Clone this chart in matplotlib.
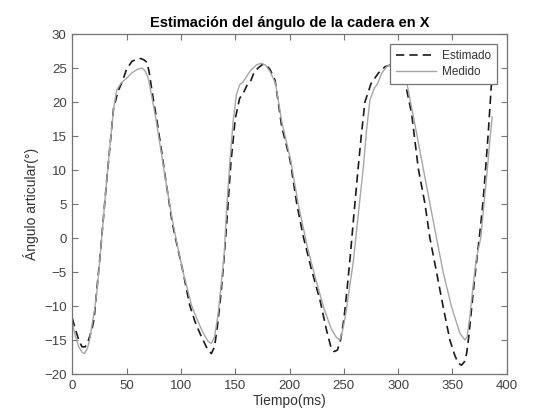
import matplotlib
matplotlib.use("Agg")
import matplotlib.pyplot as plt

# Estimado (dashed)
t_est = [0, 3, 6, 9, 12, 15, 18, 20, 23, 26, 29, 32, 35, 38, 42, 46, 50, 55, 60, 63,
         66, 69, 71, 74, 78, 82, 87, 92, 95, 102, 108, 113, 118, 124, 128, 131, 134, 137,
         140, 143, 146, 150, 154, 158, 161, 164, 167, 171, 175, 178, 182, 186.7, 192.8,
         200.5, 206.6, 212.7, 220, 228, 234, 238, 241, 244, 247, 250, 253, 256, 259, 263,
         266, 269.4, 275, 282, 288, 294, 300, 306, 312.4, 318.5, 324.6, 329.2, 335.3,
         341.4, 347.6, 352, 355.2, 358.3, 361, 363, 365, 367.5, 370, 372.5, 375, 378,
         380.4, 382.9, 386]
y_est = [-11.8, -13.5, -15, -16, -16, -15, -13.5, -12, -7, -2, 3.5, 9, 14, 19, 21.5, 23,
         24.8, 26, 26.3, 26.4, 26.2, 25.8, 24.2, 21, 17.2, 13, 7.5, 2.3, 0, -5, -9.8, -12.3,
         -14.2, -16.2, -17, -16, -12.5, -8, -2.5, 4, 11, 17.5, 20.5, 21.5, 22.5, 23, 24.2,
         25, 25.5, 25.5, 24.8, 23.2, 16.4, 11.5, 5.1, 0.2, -4.5, -9.1, -13.5, -16, -16.7,
         -16.5, -15, -12, -7.5, -2.5, 3, 10, 15, 20, 22.7, 24.3, 25.2, 25.5, 25, 23.2, 18.3,
         10.25, 5.1, 0, -5, -10.1, -15, -17.2, -18.4, -18.7, -18.2, -17, -14.5, -10.5,
         -6.5, -3, 0.5, 5.1, 10, 15.4, 23]

# Medido (solid)
t_med = [0, 3, 6, 9, 11.3, 14, 16, 18, 20.5, 23, 26, 29, 32, 35, 38, 41, 45, 50, 55, 60,
         64, 67, 70, 73, 77, 82, 87, 92, 96, 102, 110, 115, 120, 125, 128, 131, 134, 137,
         140, 142, 145, 148, 151, 154, 157.5, 160.6, 165, 170, 174.4, 178, 182, 187, 193,
         201, 208, 216.4, 224, 232, 238, 243, 246.4, 249, 252, 255, 258.7, 263, 268, 271,
         274, 278, 281, 285, 290, 295, 300, 304, 307.5, 312, 317, 323, 329.2, 335.3, 341.4,
         349.1, 356.8, 361.4, 363.5, 366, 369, 372, 376, 379, 382, 384.5, 386.5]
y_med = [-12.5, -14.5, -16, -16.8, -17, -16.2, -15, -13, -10.6, -7.5, -2, 3.5, 9, 14, 19,
         21.8, 22.8, 23.5, 24.3, 24.8, 25, 24.6, 23.5, 21, 17.5, 12.5, 7.5, 2.8, -0.5, -5,
         -10, -12, -13.8, -15.2, -15.5, -14.5, -11.5, -7, -2, 4, 11, 17, 21, 22.5, 23, 23.8,
         24.8, 25.5, 25.7, 25.4, 24.5, 22.8, 17, 11.5, 5, -1.3, -6, -10.5, -13.2, -14.6, -15,
         -13.5, -11, -7.5, -3.5, 3, 10.5, 16, 20.3, 22, 22.7, 24.3, 25.3, 25.5, 25, 24.2,
         23.2, 19.5, 15.4, 10.3, 5.1, 0, -5, -10.1, -14, -15, -14.5, -11.5, -7, -3, 0, 5,
         10, 14.5, 17.8]

plt.rcParams["font.family"] = ["Liberation Sans", "DejaVu Sans"]

fig = plt.figure(figsize=(5.6, 4.2), dpi=100)
ax = fig.add_axes([0.129, 0.1095, 0.776, 0.8095])

ax.plot(t_est, y_est, linestyle=(0, (5, 3)), color="0.1", linewidth=1.2, label="Estimado")
ax.plot(t_med, y_med, linestyle="-", color="0.65", linewidth=1.0, label="Medido")

ax.set_xlim(0, 400)
ax.set_ylim(-20, 30)
ax.set_xticks(range(0, 401, 50))
ax.set_yticks(range(-20, 31, 5))

for side in ax.spines.values():
    side.set_color("0.45")
    side.set_linewidth(0.9)
ax.tick_params(direction="in", top=True, right=True, length=4, width=0.8,
               color="0.45", labelcolor="0.25", labelsize=9.5, pad=4)

ax.set_title("Estimación del ángulo de la cadera en X", fontsize=10.5,
             fontweight="bold", pad=5)
ax.set_xlabel("Tiempo(ms)", fontsize=10, color="0.2", labelpad=2)
ax.set_ylabel("Ángulo articular(°)", fontsize=10, color="0.2", labelpad=4)

leg = ax.legend(loc="upper right", fontsize=8.5, fancybox=False, framealpha=1,
                edgecolor="0.45", borderaxespad=0.85, handlelength=3.4,
                labelspacing=0.35, borderpad=0.5, handletextpad=0.5)
leg.get_frame().set_linewidth(0.9)
for txt in leg.get_texts():
    txt.set_color("0.2")

fig.savefig("out.png", dpi=100)
